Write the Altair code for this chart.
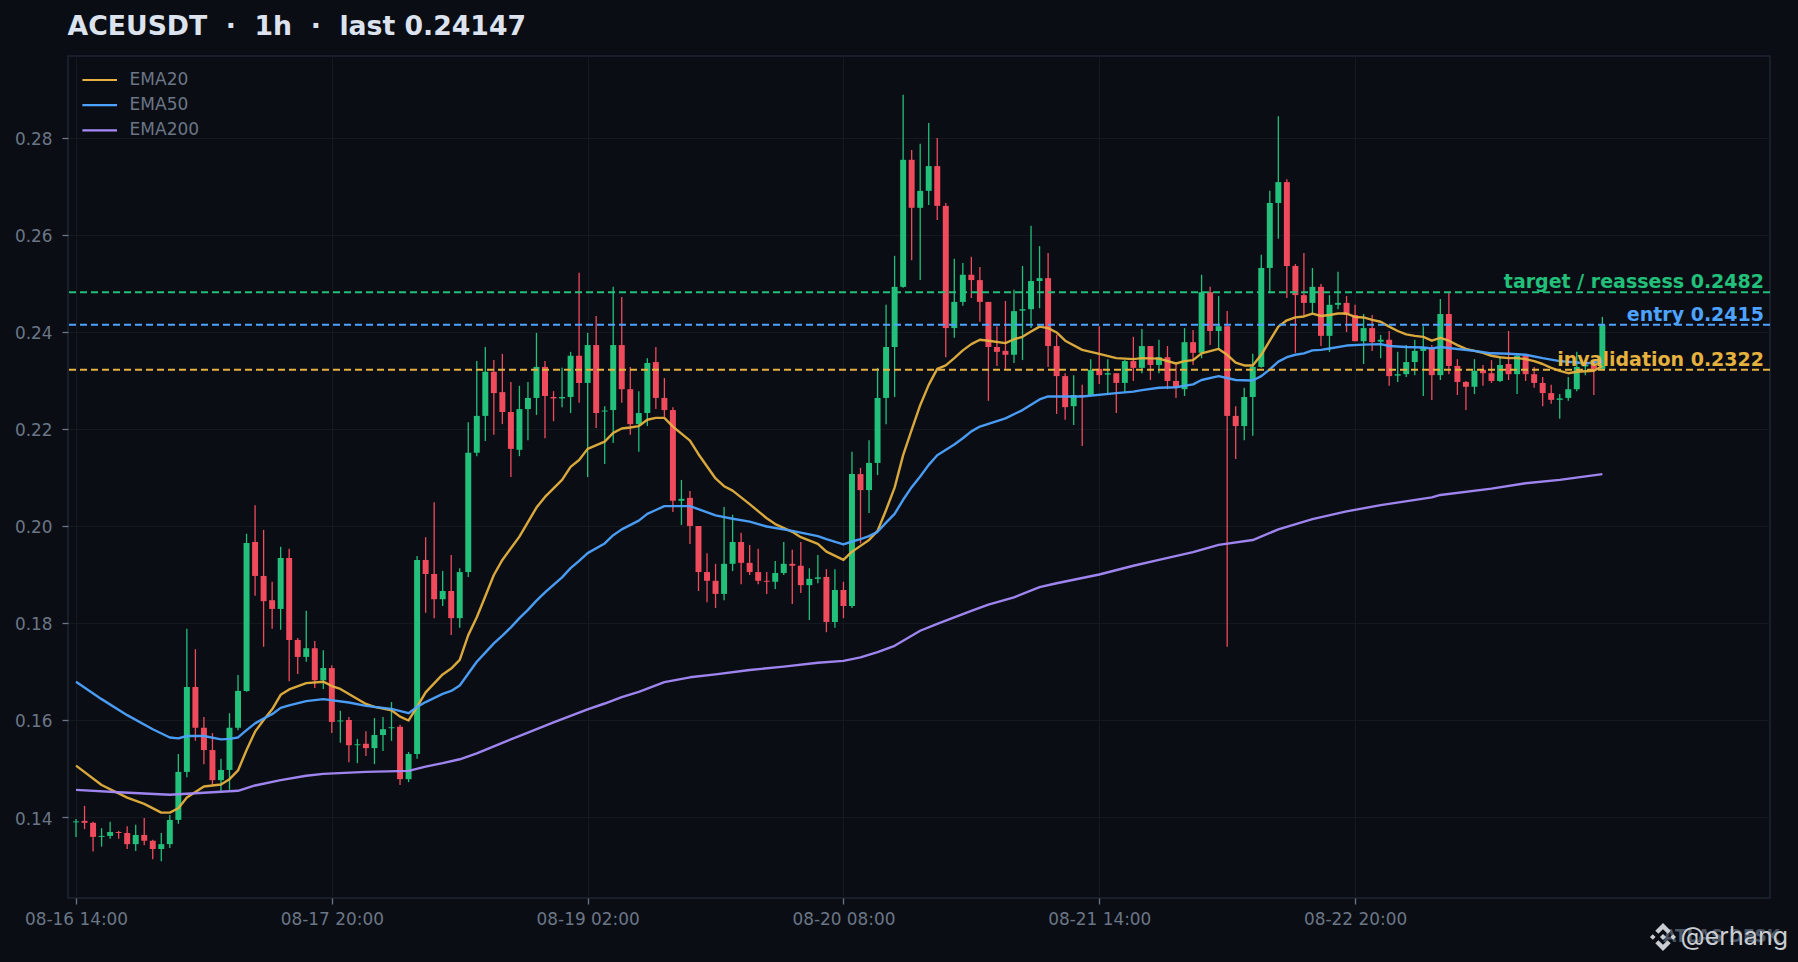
import altair as alt
import pandas as pd
from altair.utils.html import HTML_TEMPLATE

# Prices, in thousandths of USDT
opens = [138.9,139.2,138.8,135.9,136.1,136.9,136.7,134.4,136.3,135.1,
133.4,134.4,139.4,149.3,166.8,158.4,153.8,147.6,149.7,158.4,
166.0,196.7,189.7,184.7,182.9,193.4,176.5,173.0,174.8,168.2,
170.7,159.7,160.0,154.8,155.1,154.2,156.9,158.3,158.6,147.8,
153.0,193.0,190.1,184.9,186.6,181.0,190.5,215.1,222.7,231.8,
227.6,223.5,215.7,224.1,226.4,232.8,226.6,226.3,226.6,235.1,
229.5,237.3,223.6,223.9,237.3,228.2,221.0,223.3,233.8,226.4,
223.9,205.2,205.8,200.0,190.5,188.7,186.0,192.2,196.7,192.4,
190.5,188.7,188.5,190.3,192.2,191.8,187.8,189.1,189.5,180.2,
186.8,183.5,210.7,207.4,213.0,226.4,236.9,249.3,275.5,265.6,
269.1,274.2,266.0,240.8,246.2,251.8,250.7,246.2,236.9,236.1,
235.3,244.4,244.7,250.5,251.1,237.1,230.9,224.7,227.0,227.0,
232.4,231.2,231.5,229.5,234.0,232.6,237.1,233.2,234.8,229.9,
228.2,237.9,235.7,248.2,240.2,241.2,222.7,220.6,226.6,232.8,
253.2,266.6,270.9,253.6,247.6,246.0,249.3,239.2,245.6,246.0,
243.5,238.1,240.8,238.0,238.4,231.0,231.3,233.8,236.1,236.7,
231.1,243.7,233.0,229.7,228.7,232.2,231.5,229.9,233.4,231.3,
235.1,231.3,229.5,227.4,226.0,226.4,228.2,232.9,233.2,232.4]

closes = [139.1,138.8,135.9,136.1,136.9,136.7,134.4,136.3,135.1,133.4,
134.4,139.4,149.3,166.8,158.4,153.8,147.6,149.7,158.4,166.0,
196.5,189.7,184.5,182.9,193.4,176.5,173.0,174.8,168.2,170.7,
159.6,159.9,154.8,155.0,154.2,156.9,158.1,158.5,147.8,153.0,
193.0,190.1,184.9,186.6,181.0,190.5,215.1,222.7,231.8,227.4,
223.5,215.9,224.1,226.4,232.8,226.8,226.3,226.6,235.1,229.5,
237.3,223.3,223.8,237.3,228.2,221.0,223.3,233.6,226.4,223.9,
205.2,205.6,200.0,190.5,188.7,186.0,192.2,196.7,192.4,190.5,
188.7,188.5,190.3,192.2,191.8,187.8,189.1,189.4,180.2,186.8,
183.5,210.7,207.4,213.0,226.4,236.9,249.3,275.5,265.6,269.1,
274.2,266.0,240.8,246.2,251.8,250.7,246.2,236.9,235.9,235.3,
244.3,244.7,250.5,251.1,237.1,230.9,224.5,227.0,226.7,232.2,
231.1,231.5,229.5,234.0,232.6,237.1,233.2,234.8,229.9,228.5,
237.9,235.7,248.2,240.2,241.2,222.7,220.6,226.6,232.8,253.2,
266.6,270.9,253.6,247.6,246.0,249.3,239.2,245.6,246.0,243.5,
238.1,240.8,237.9,238.4,230.9,231.3,233.8,236.1,236.7,231.1,
243.7,233.0,229.7,228.7,232.0,231.5,229.9,233.2,231.3,235.1,
231.3,229.5,227.4,226.0,226.3,228.2,232.8,233.2,232.4,241.47]

highs = [139.6,142.3,139.0,137.7,139.0,137.1,138.1,138.4,139.8,135.3,
136.7,140.4,153.0,178.8,174.6,160.6,157.3,152.0,161.4,169.3,
198.4,204.3,199.2,188.5,195.7,195.3,176.9,182.5,176.3,174.4,
171.3,161.9,160.6,156.1,157.7,160.4,160.6,163.7,159.0,153.4,
193.8,197.7,204.9,190.7,194.0,191.3,221.4,234.0,236.9,234.2,
235.5,229.7,228.9,229.7,239.8,234.0,227.8,232.6,235.9,252.2,
239.8,243.3,224.7,249.3,247.2,232.8,227.8,234.6,236.9,230.5,
224.5,209.5,207.2,200.0,194.4,192.2,203.9,202.3,198.6,196.1,
195.3,190.5,192.8,196.7,195.1,196.7,191.3,194.0,191.1,191.1,
188.5,215.3,212.0,217.7,232.6,245.6,255.7,288.9,277.5,278.8,
283.1,280.0,266.6,255.1,254.2,255.5,253.4,246.2,241.2,246.4,
248.7,253.6,261.9,257.7,256.3,239.4,231.5,231.1,229.1,234.4,
241.2,234.4,231.5,234.2,239.0,240.6,237.1,238.4,237.1,233.4,
240.8,240.4,251.8,249.3,247.4,244.3,224.7,228.5,235.5,255.9,
269.1,284.5,271.5,254.0,256.3,253.2,249.9,247.6,252.4,247.4,
245.6,243.7,243.5,239.4,240.2,235.9,237.3,238.4,241.2,237.3,
246.8,248.1,234.4,229.9,234.4,233.2,234.2,234.8,240.2,235.3,
235.1,232.8,230.7,229.1,227.2,230.7,235.9,234.2,234.2,243.1]

lows = [135.9,137.5,132.9,133.9,135.5,135.5,133.4,133.0,134.2,131.3,
130.9,133.6,138.6,148.2,155.7,150.9,146.6,145.2,145.6,157.9,
165.8,185.6,175.1,178.8,178.6,168.0,169.5,172.0,166.6,166.4,
157.3,155.3,151.3,151.1,152.6,150.9,153.6,155.7,146.6,147.2,
152.0,182.1,181.0,183.5,177.5,179.0,189.5,214.4,217.5,218.8,
221.0,210.1,214.4,217.7,222.9,218.1,221.6,224.5,223.3,225.4,
210.1,220.2,212.8,217.1,225.4,218.8,215.3,220.6,224.1,222.5,
202.9,200.2,196.3,186.6,184.3,183.1,184.7,190.7,188.0,189.9,
188.0,186.0,187.0,189.9,183.9,186.2,180.6,188.2,178.1,179.0,
181.0,183.1,196.4,202.7,210.5,221.0,226.6,249.1,254.8,250.7,
266.2,263.1,234.8,238.8,245.4,247.0,242.1,225.8,233.0,232.4,
233.6,234.2,240.8,244.9,232.8,223.1,221.9,220.8,216.5,226.8,
229.3,227.0,223.3,227.6,229.9,231.5,230.1,231.5,228.2,226.4,
226.8,233.2,234.6,237.3,236.3,175.1,213.8,217.7,218.6,232.6,
248.0,259.2,247.0,235.7,243.3,243.7,237.1,235.9,244.7,240.0,
238.1,233.4,236.1,234.6,228.9,229.7,230.7,231.1,226.8,226.0,
230.1,231.3,227.0,223.9,227.2,228.9,229.5,229.7,230.1,227.2,
229.9,228.5,224.7,225.2,222.1,225.8,227.8,231.1,227.0,232.2]

ema20_at = [0,3,6,8,10,11,12,13,15,17,18,19,20,21,22,23,24,25,27,29,30,31,34,35,37,38,39,40,41,43,44,45,46,47,48,
49,50,51,52,54,55,57,58,59,60,62,63,64,65,66,67,68,69,70,72,73,75,76,77,79,81,82,84,85,87,88,90,91,92,93,94,95,96,97,
98,99,100,101,102,103,104,105,106,107,109,110,111,112,113,114,115,116,118,120,122,124,125,127,129,130,131,132,134,135,136,137,138,
139,140,141,142,143,144,145,146,147,148,149,150,151,152,153,154,155,156,157,158,159,160,161,162,163,164,165,166,167,168,169,170,171,172,173,174,175,176,177,178,179]
ema20 = [150.6,146.6,144.0,142.7,140.9,140.9,141.8,144.0,146.3,146.7,147.8,149.6,153.8,157.6,160.0,162.2,165.2,166.3,167.6,167.9,167.0,166.4,163.3,162.7,162.0,160.7,159.9,162.7,165.7,169.4,170.6,172.4,177.5,181.2,185.5,
189.9,193.0,195.4,197.8,203.8,206.0,209.5,212.2,213.6,215.9,217.4,219.2,220.1,220.3,220.6,221.9,222.3,222.3,220.5,217.6,214.8,209.8,208.2,207.3,204.5,201.6,200.4,198.8,197.7,196.3,194.7,193.0,194.7,195.9,197.1,199.0,203.3,207.9,214.6,
219.8,224.9,229.1,232.4,233.1,234.6,236.2,237.5,238.4,238.2,237.7,238.5,239.0,240.1,241.1,240.8,239.9,238.2,236.3,235.5,234.6,234.4,234.6,234.5,233.5,234.0,234.2,235.6,236.5,235.3,233.7,233.1,233.1,
235.3,238.2,241.1,242.4,243.0,243.2,243.8,243.3,243.5,243.8,243.8,243.1,243.0,242.5,242.1,241.1,240.2,239.5,239.2,239.0,238.2,238.8,238.2,237.3,236.5,236.1,235.7,235.1,234.8,234.6,234.6,234.4,234.0,233.4,232.6,232.0,231.5,231.8,231.9,232.0,233.0]

ema50_at = [0,3,6,9,11,12,13,15,17,18,19,20,21,22,23,24,25,27,29,32,34,37,39,40,41,43,44,45,47,48,49,50,51,52,53,54,55,57,58,59,60,62,63,64,66,67,68,69,72,75,77,79,81,84,87,88,90,91,92,93,94,95,96,97,98,99,
100,101,103,104,105,106,109,111,113,114,116,118,122,124,125,127,129,131,132,134,136,138,139,140,141,142,143,144,145,146,147,149,151,153,154,156,158,159,160,162,164,166,168,170,172,174,176,177,179]
ema50 = [167.9,164.3,161.0,158.1,156.4,156.2,156.7,156.7,156.0,156.1,156.4,157.9,159.3,160.3,161.2,162.5,163.0,163.9,164.3,163.6,162.9,162.3,161.4,162.7,163.7,165.4,166.0,167.1,172.0,173.9,175.8,177.4,179.1,181.0,182.7,184.6,186.3,189.4,191.3,192.8,194.4,196.4,198.1,199.3,201.1,202.5,203.3,204.1,204.1,202.2,201.5,200.9,199.9,199.0,197.9,197.3,196.2,196.8,197.3,197.9,198.8,200.7,202.5,205.4,208.0,210.2,
212.6,214.6,216.8,218.1,219.5,220.5,222.2,223.9,226.1,226.7,226.7,226.7,227.4,227.7,228.0,228.5,228.6,229.2,230.1,230.9,230.1,230.0,230.9,232.3,233.9,234.8,235.3,235.6,236.2,236.3,236.6,237.2,237.4,237.5,237.1,236.9,236.8,236.6,236.9,236.5,236.1,235.6,235.5,235.3,234.6,234.0,233.7,233.5,233.9]

ema200_at = [0,5,11,13,17,19,21,24,27,29,34,39,41,43,45,47,50,53,56,60,62,64,66,69,72,75,79,83,87,90,92,94,96,99,101,105,107,110,113,115,120,124,127,131,134,138,141,145,149,153,159,160,166,170,174,179]
ema200 = [145.6,145.1,144.6,144.8,145.2,145.4,146.5,147.6,148.5,148.9,149.3,149.5,150.4,151.1,151.9,153.1,155.3,157.4,159.5,162.2,163.4,164.7,165.8,167.8,168.8,169.4,170.3,171.0,171.8,172.2,172.9,174.0,175.3,178.4,179.8,182.5,183.8,185.3,187.4,188.2,190.0,191.8,193.0,194.6,196.1,197.1,199.3,201.4,203.0,204.3,205.9,206.4,207.7,208.8,209.5,210.7]

tick_at = [0,30,60,90,120,150]
tick_labels = ["08-16 14:00","08-17 20:00","08-19 02:00","08-20 08:00","08-21 14:00","08-22 20:00"]
price_ticks = [0.14,0.16,0.18,0.20,0.22,0.24,0.26,0.28]
level_names = ["target / reassess 0.2482","entry 0.2415","invalidation 0.2322"]
level_values = [0.2482,0.2415,0.2322]
level_colors = ["#22c07a","#4da3ff","#e5b13f"]
series_names = ["EMA20","EMA50","EMA200"]
series_colors = ["#e5b13f","#4da3ff","#a78bfa"]

BG="#0a0d14"; GRID="#141920"; SPINE="#1e2632"; TXT="#6b7686"
UP="#22c07a"; DOWN="#f04a5d"
X0,X1=-0.94,198.66
Y0,Y1=0.1233,0.2969

candles=pd.DataFrame({"i":list(range(len(opens))),
  "o":[v/1000 for v in opens],"h":[v/1000 for v in highs],
  "l":[v/1000 for v in lows],"c":[v/1000 for v in closes]})
candles["a"]=candles.i-0.35
candles["b"]=candles.i+0.35
candles["dir"]=["up" if c>=o else "down" for o,c in zip(opens,closes)]

rows=[]
for name,at,vals in zip(series_names,[ema20_at,ema50_at,ema200_at],[ema20,ema50,ema200]):
    rows+= [{"i":i,"v":v/1000,"s":name} for i,v in zip(at,vals)]
lines=pd.DataFrame(rows)
levels=pd.DataFrame({"n":level_names,"v":level_values,"c":level_colors})

label_expr="{"+",".join(f"'{a}':'{b}'" for a,b in zip(tick_at,tick_labels))+"}[datum.value]"
xs=alt.Scale(domain=[X0,X1],nice=False,zero=False)
ys=alt.Scale(domain=[Y0,Y1],nice=False,zero=False)
xaxis=alt.Axis(values=tick_at,labelExpr=label_expr,title=None,grid=True,gridColor=GRID,gridWidth=1,
    domain=False,tickColor=TXT,tickSize=6,tickWidth=1.3,labelColor=TXT,labelFont="DejaVu Sans",labelFontSize=16.9,labelPadding=7,labelFlush=False,labelOverlap=False)
yaxis=alt.Axis(values=price_ticks,format=".2f",title=None,grid=True,gridColor=GRID,gridWidth=1,
    domain=False,tickColor=TXT,tickSize=6,tickWidth=1.3,labelColor=TXT,labelFont="DejaVu Sans",labelFontSize=16.9,labelPadding=10,labelOffset=2)
dirc=alt.Color("dir:N",scale=alt.Scale(domain=["up","down"],range=[UP,DOWN]),legend=None)

wick=alt.Chart(candles).mark_rule(strokeWidth=1.3).encode(
    x=alt.X("i:Q",scale=xs,axis=xaxis),
    y=alt.Y("l:Q",scale=ys,axis=yaxis),y2="h:Q",color=dirc)
body=alt.Chart(candles).mark_rect().encode(
    x=alt.X("a:Q",scale=xs,axis=xaxis),x2="b:Q",
    y=alt.Y("o:Q",scale=ys,axis=yaxis),y2="c:Q",color=dirc)
ema=alt.Chart(lines).mark_line(strokeWidth=2.4,strokeJoin="round",opacity=0.95).encode(
    x=alt.X("i:Q",scale=xs,axis=xaxis),y=alt.Y("v:Q",scale=ys,axis=yaxis),
    color=alt.Color("s:N",scale=alt.Scale(domain=series_names,range=series_colors),legend=None))
hl=alt.Chart(levels).mark_rule(strokeWidth=2,strokeDash=[7,4]).encode(
    y=alt.Y("v:Q",scale=ys,axis=yaxis),color=alt.Color("c:N",scale=None))
hl_text=alt.Chart(levels).mark_text(align="right",baseline="alphabetic",dx=-6,dy=-4,font="DejaVu Sans",fontWeight="bold",fontSize=19).encode(
    x=alt.value(1702),y=alt.Y("v:Q",scale=ys,axis=yaxis),text="n:N",color=alt.Color("c:N",scale=None))

# legend keys and labels
key_layers=[]
for k,(name,col) in enumerate(zip(series_names,series_colors)):
    src=alt.Chart(pd.DataFrame({"t":[name]}))
    key_layers.append(src.mark_rule(strokeWidth=2.2,color=col).encode(
        x=alt.value(14.4),x2=alt.value(49),y=alt.value(24+25.2*k)))
    key_layers.append(src.mark_text(align="left",baseline="middle",font="DejaVu Sans",fontSize=17,color=TXT).encode(
        x=alt.value(61.6),y=alt.value(24+25.2*k),text="t:N"))

logo="M0,-0.22L0.22,0L0,0.22L-0.22,0Z M-0.73,-0.2L-0.53,0L-0.73,0.2L-0.93,0Z M0.73,-0.2L0.93,0L0.73,0.2L0.53,0Z M0,-1L0.55,-0.45L0.33,-0.23L0,-0.56L-0.33,-0.23L-0.55,-0.45Z M0,1L0.55,0.45L0.33,0.23L0,0.56L-0.33,0.23L-0.55,0.45Z"
wm_src=alt.Chart(pd.DataFrame({"t":["ATLAS DESK"]}))
wm1=wm_src.mark_text(align="right",baseline="middle",font="DejaVu Sans",fontWeight="bold",fontSize=17,color="#4a5361",clip=False).encode(
    x=alt.value(1712),y=alt.value(881),text="t:N")
wm2=alt.Chart(pd.DataFrame({"t":["@erhang"]})).mark_text(align="right",baseline="middle",font="Inter",fontSize=25,color="#c9cdd2",clip=False).encode(
    x=alt.value(1720),y=alt.value(881),text="t:N")
wm3=wm_src.mark_point(shape=logo,size=784,filled=True,color="#c9cdd2",opacity=1,clip=False).encode(
    x=alt.value(1595),y=alt.value(881))

chart=alt.layer(wick,body,ema,hl,hl_text,*key_layers,wm1,wm2,wm3).resolve_scale(color="independent").properties(
    width=1702,height=842,
    padding={"left":60,"top":48,"right":20,"bottom":54},
    autosize=alt.AutoSizeParams(type="none"),
    background=BG,
    title=alt.TitleParams("ACEUSDT\u00a0\u00a0·\u00a0\u00a01h\u00a0\u00a0·\u00a0\u00a0last 0.24147",anchor="start",frame="group",color="#dde3ee",
        font="DejaVu Sans",fontWeight="bold",fontSize=26.7,offset=15,dx=-0.5)
).configure_view(stroke=SPINE,strokeWidth=1.5,fill=BG)

class Page:
    """Standard page, with the margin painted like the chart."""
    def render(self,**kw):
        return HTML_TEMPLATE.render(**kw).replace("<head>","<head><style>html,body{background:"+BG+";}</style>",1)

chart.save("out.html",embed_options={"renderer":"svg","actions":False},template=Page())
